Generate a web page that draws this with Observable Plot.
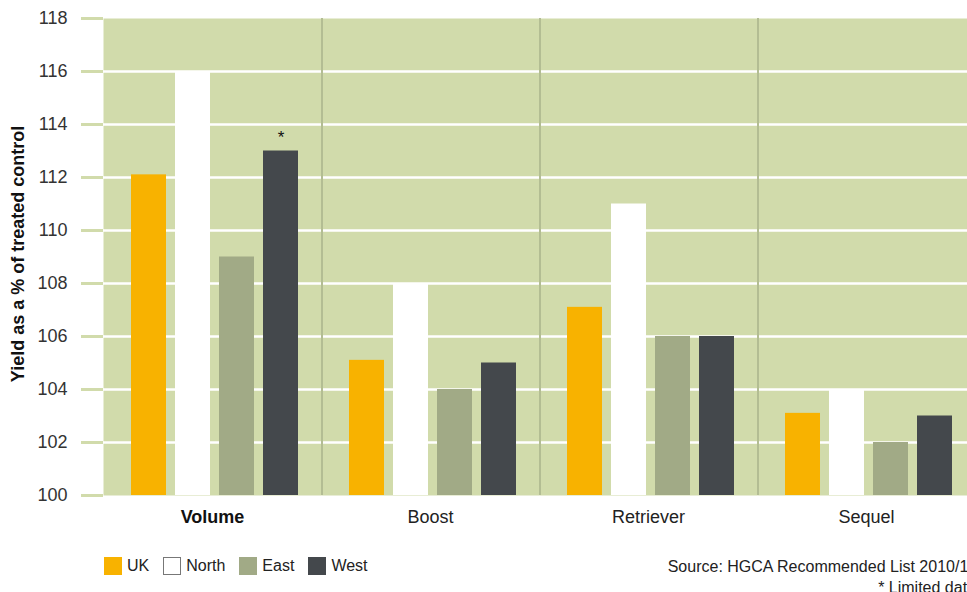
<!DOCTYPE html>
<html>
<head>
<meta charset="utf-8">
<script src="https://cdn.jsdelivr.net/npm/d3@7"></script>
<script src="https://cdn.jsdelivr.net/npm/@observablehq/plot@0.6"></script>
<style>
  html, body { margin: 0; padding: 0; background: #fff; overflow: hidden; }
  body { font-family: "Liberation Sans", Arial, sans-serif; }
  #wrap { position: relative; width: 976px; height: 592px; }
  #ylabel { position: absolute; left: 18px; top: 254px; transform: translate(-50%, -50%) rotate(-90deg);
            white-space: nowrap; font-weight: bold; font-size: 18px; color: #111; }
  #legend { position: absolute; left: 104px; top: 557px; display: flex; align-items: center; font-size: 16px; color: #222; }
  .sw { width: 18px; height: 18px; box-sizing: border-box; margin-right: 5px; }
  .item { display: flex; align-items: center; margin-right: 14px; }
  #source { position: absolute; right: 0; top: 556px; text-align: right; font-size: 16px; color: #222; line-height: 21px; }
</style>
</head>
<body>
<div id="wrap">
  <div id="chart"></div>
  <div id="ylabel"></div>
  <div id="legend"></div>
  <div id="source"></div>
</div>
<script>
const groups = ["Volume", "Boost", "Retriever", "Sequel"];
const series = ["UK", "North", "East", "West"];
const ukValues    = [112.1, 105.1, 107.1, 103.1];
const northValues = [116, 108, 111, 104];
const eastValues  = [109, 104, 106, 102];
const westValues  = [113, 105, 106, 103];
const yTicks = [100, 102, 104, 106, 108, 110, 112, 114, 116, 118];
const gridValues = [102, 104, 106, 108, 110, 112, 114, 116];
const limitedData = [{group: "Volume", series: "West", value: 113}];
const colors = {UK: "#f8b200", North: "#ffffff", East: "#a1aa86", West: "#44484c"};
const yLabel = "Yield as a % of treated control";
const sourceLines = ["Source: HGCA Recommended List 2010/11", "* Limited data"];

const valuesBySeries = {UK: ukValues, North: northValues, East: eastValues, West: westValues};
const data = [];
groups.forEach((g, gi) => series.forEach(s => data.push({group: g, series: s, value: valuesBySeries[s][gi]})));

const bg = "#d1dbab";
const width = 975, marginLeft = 103, marginRight = 0;
const facetW = (width - marginLeft - marginRight) / groups.length;

const chart = Plot.plot({
  width, height: 545,
  marginLeft, marginRight, marginTop: 18, marginBottom: 50,
  style: {fontFamily: "Liberation Sans, Arial, sans-serif", background: "#fff"},
  fx: {domain: groups, padding: 0, axis: null},
  x: {domain: series, paddingInner: 0.213, paddingOuter: 0.556, align: 0.545, axis: null},
  y: {domain: [100, 118], axis: null},
  marks: [
    Plot.frame({fill: bg, stroke: null}),
    Plot.ruleY(gridValues, {stroke: "white", strokeWidth: 2.5}),
    Plot.rect(groups.slice(1), {fx: d => d, y1: 100, y2: 118, insetRight: facetW - 2, fill: "#b3bd93"}),
    Plot.barY(data, {fx: "group", x: "series", y1: 100, y2: "value", fill: d => colors[d.series]}),
    Plot.text(limitedData, {fx: "group", x: "series", y: "value", text: () => "*", dy: -13, fontSize: 17, fill: "#111"}),
    Plot.axisY(yTicks, {text: null, tickSize: 22, stroke: bg, strokeWidth: 3, label: null}),
    Plot.axisY(yTicks, {tickSize: 0, tickPadding: 36, fontSize: 18, fill: "#333", tickFormat: d => d, label: null}),
    Plot.text(groups.filter(g => g === "Volume"), {fx: d => d, text: d => d, frameAnchor: "bottom", dy: 27, fontSize: 18, fontWeight: "bold", fill: "#111"}),
    Plot.text(groups.filter(g => g !== "Volume"), {fx: d => d, text: d => d, frameAnchor: "bottom", dy: 27, fontSize: 18, fill: "#222"})
  ]
});
document.getElementById("chart").appendChild(chart);

document.getElementById("ylabel").textContent = yLabel;
const legend = document.getElementById("legend");
series.forEach(s => {
  const item = document.createElement("div");
  item.className = "item";
  const sw = document.createElement("div");
  sw.className = "sw";
  sw.style.background = colors[s];
  if (s === "North") sw.style.border = "1.5px solid #777";
  const lab = document.createElement("span");
  lab.textContent = s;
  item.appendChild(sw); item.appendChild(lab);
  legend.appendChild(item);
});
document.getElementById("source").innerHTML = sourceLines.map(t => `<div>${t}</div>`).join("");
</script>
</body>
</html>
